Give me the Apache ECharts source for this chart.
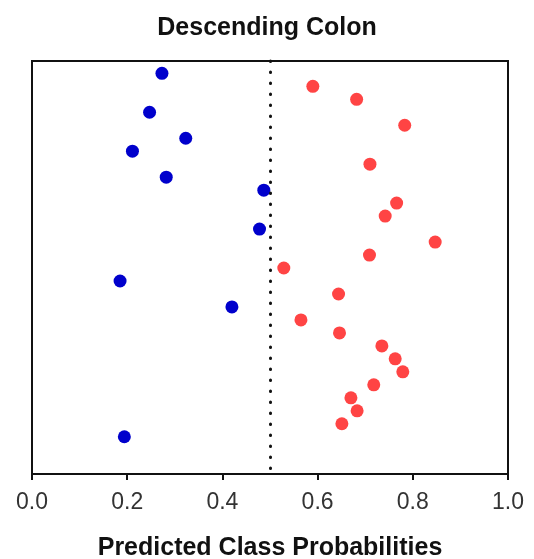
<!DOCTYPE html>
<html>
<head>
<meta charset="utf-8">
<script src="https://cdn.jsdelivr.net/npm/echarts@6/dist/echarts.min.js"></script>
<style>html,body{margin:0;padding:0;background:#fff}#c{width:534px;height:559px}</style>
</head>
<body>
<div id="c"></div>
<script>
// Row index (top = 0) and predicted probability for each sample
var blueRows = [0, 3, 5, 6, 8, 9, 12, 16, 18, 28];
var blueProb = [0.273, 0.247, 0.323, 0.211, 0.282, 0.487, 0.478, 0.185, 0.420, 0.194];
var redRows = [1, 2, 4, 7, 10, 11, 13, 14, 15, 17, 19, 20, 21, 22, 23, 24, 25, 26, 27];
var redProb = [0.590, 0.682, 0.783, 0.710, 0.766, 0.742, 0.847, 0.709, 0.529, 0.644, 0.565, 0.646, 0.735, 0.763, 0.779, 0.718, 0.670, 0.683, 0.651];
var xTicks = [0.0, 0.2, 0.4, 0.6, 0.8, 1.0];
var threshold = 0.5;

function pairs(xs, ys) { return xs.map(function (v, i) { return [v, ys[i]]; }); }

var chart = echarts.init(document.getElementById('c'));
chart.setOption({
  animation: false,
  title: {
    text: 'Descending Colon', left: 'center', top: 11,
    textStyle: { fontFamily: 'Liberation Sans, Arial', fontSize: 25, fontWeight: 'bold', color: '#111' }
  },
  grid: {
    left: 32, right: 26, top: 61, bottom: 85, containLabel: false, outerBoundsMode: 'none',
    show: true, borderColor: '#111', borderWidth: 2, backgroundColor: 'transparent'
  },
  xAxis: {
    type: 'value', min: 0, max: 1, interval: 0.2,
    name: 'Predicted Class Probabilities', nameLocation: 'middle', nameGap: 62,
    nameTextStyle: { fontFamily: 'Liberation Sans, Arial', fontSize: 25, fontWeight: 'bold', color: '#111' },
    axisLine: { show: true, onZero: false, lineStyle: { color: '#111', width: 2 } },
    axisTick: { show: true, length: 6, lineStyle: { color: '#111', width: 2 } },
    axisLabel: {
      margin: 17, fontFamily: 'Liberation Sans, Arial', fontSize: 23, color: '#333',
      formatter: function (v) { return xTicks.indexOf(+v.toFixed(1)) >= 0 ? v.toFixed(1) : ''; }
    },
    splitLine: { show: false }
  },
  yAxis: {
    type: 'value', min: -0.95, max: 30.87, inverse: true,
    axisLine: { show: false }, axisTick: { show: false }, axisLabel: { show: false }, splitLine: { show: false }
  },
  series: [
    {
      type: 'scatter', data: pairs(blueProb, blueRows), symbolSize: 13,
      itemStyle: { color: '#0000CC', opacity: 1 },
      markLine: {
        silent: true, symbol: 'none', label: { show: false },
        lineStyle: { color: '#111', width: 3, type: [0.5, 10.5], cap: 'round' },
        data: [{ xAxis: threshold }]
      }
    },
    {
      type: 'scatter', data: pairs(redProb, redRows), symbolSize: 13,
      itemStyle: { color: '#FF4444', opacity: 1 }
    }
  ]
});
</script>
</body>
</html>
